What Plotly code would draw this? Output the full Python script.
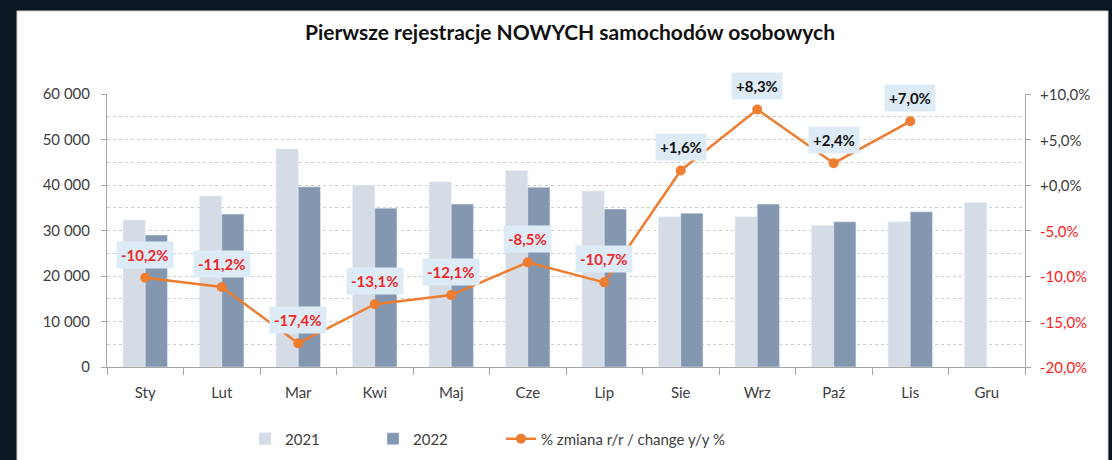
import plotly.graph_objects as go

months = ["Sty", "Lut", "Mar", "Kwi", "Maj", "Cze", "Lip", "Sie", "Wrz", "Paź", "Lis", "Gru"]
y2021 = [32300, 37600, 47900, 40000, 40700, 43200, 38700, 33000, 33000, 31100, 31900, 36100]
y2022 = [29000, 33600, 39600, 34900, 35800, 39500, 34700, 33800, 35800, 31900, 34100, None]
change = [-10.2, -11.2, -17.4, -13.1, -12.1, -8.5, -10.7, 1.6, 8.3, 2.4, 7.0, None]
change_labels = ["-10,2%", "-11,2%", "-17,4%", "-13,1%", "-12,1%", "-8,5%", "-10,7%",
                 "+1,6%", "+8,3%", "+2,4%", "+7,0%", None]
right_vals = [10, 5, 0, -5, -10, -15, -20]
right_text = ["+10,0%", "+5,0%", "+0,0%", "-5,0%", "-10,0%", "-15,0%", "-20,0%"]

FONT = "Lato"
fig = go.Figure()
fig.add_trace(go.Bar(x=months, y=y2021, name="2021", marker_color="#D6DCE5", legend="legend"))
fig.add_trace(go.Bar(x=months, y=y2022, name="2022", marker_color="#8497B0", legend="legend2"))
fig.add_trace(go.Scatter(x=months, y=change, name="% zmiana r/r / change y/y %", yaxis="y2",
                         mode="lines+markers", line=dict(color="#ED7D31", width=2.5),
                         marker=dict(size=10, color="#ED7D31"), legend="legend3"))

for m, v, t in zip(months, change, change_labels):
    if v is None:
        continue
    col = "#F02828" if v < 0 else "#111111"
    fig.add_annotation(x=m, y=v, xref="x", yref="y2", text="<b>%s</b>" % t, showarrow=False,
                       yshift=23, bgcolor="#DDEBF7", borderpad=4,
                       font=dict(family=FONT, size=15, color=col))

# right-axis tick labels (negative values in red)
for v, t in zip(right_vals, right_text):
    col = "#FF2020" if v < 0 else "#404040"
    fig.add_annotation(x=1, y=v, xref="paper", yref="y2", text=t, showarrow=False,
                       xanchor="left", xshift=13, font=dict(family=FONT, size=15, color=col))

W, H = 1112, 460
L, R, T, B = 107, 87, 94, 93
pw, ph = W - L - R, H - T - B

def px(x):
    return (x - L) / pw

def py(y):
    return (H - B - y) / ph

fig.add_shape(type="rect", xref="paper", yref="paper", x0=px(17), x1=px(1108), y0=py(475), y1=py(11),
              fillcolor="white", line=dict(color="#D0D0D0", width=1), layer="below")

leg_common = dict(orientation="h", y=py(439), yanchor="middle", bgcolor="rgba(0,0,0,0)",
                  font=dict(size=15, color="#404040"))

fig.update_layout(
    width=W, height=H,
    margin=dict(l=L, r=R, t=T, b=B, autoexpand=False),
    paper_bgcolor="#0A1622",
    plot_bgcolor="white",
    separators=", ",
    barmode="group", bargap=0.42, bargroupgap=0.0,
    font=dict(family=FONT, size=15, color="#404040"),
    title=dict(text="<b>Pierwsze rejestracje NOWYCH samochodów osobowych</b>",
               x=px(570), xref="paper", xanchor="center", y=1 - 33 / H, yref="container",
               yanchor="middle", font=dict(family=FONT, size=21, color="#111111")),
    xaxis=dict(range=[-0.5, 11.5], showline=True, linecolor="#A6A6A6", linewidth=1, ticks="outside",
               tickson="boundaries", tickcolor="#A6A6A6", ticklen=7, ticklabelstandoff=12,
               tickfont=dict(size=15, color="#404040"), showgrid=False),
    yaxis=dict(range=[0, 60000], dtick=10000, tickformat=",d", showline=True, linecolor="#A6A6A6",
               ticks="outside", tickcolor="#A6A6A6", ticklen=5, ticklabelstandoff=8,
               showgrid=True, gridcolor="#CDCDCD", griddash="dot", gridwidth=1,
               minor=dict(dtick=5000, showgrid=True, gridcolor="#CDCDCD", griddash="dot"),
               tickfont=dict(size=15, color="#404040"), zeroline=False),
    yaxis2=dict(range=[-20, 10], overlaying="y", side="right", tickvals=right_vals,
                showticklabels=False, showline=True, linecolor="#A6A6A6", ticks="outside",
                tickcolor="#A6A6A6", ticklen=5, showgrid=False, zeroline=False),
    legend=dict(x=px(245), xanchor="left", **leg_common),
    legend2=dict(x=px(373), xanchor="left", **leg_common),
    legend3=dict(x=px(501), xanchor="left", **leg_common),
    showlegend=True,
)

fig.write_html("out.html")
